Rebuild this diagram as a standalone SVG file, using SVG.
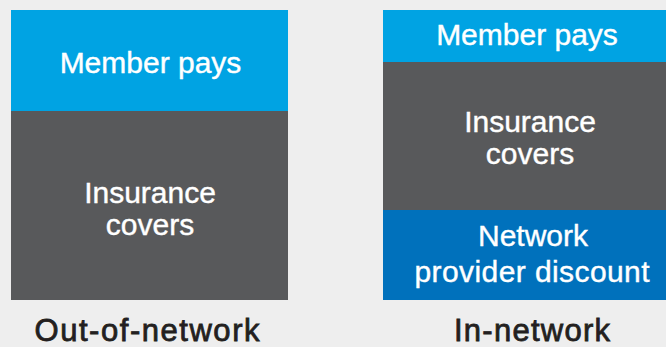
<svg xmlns="http://www.w3.org/2000/svg" width="666" height="347" viewBox="0 0 666 347">
<style>
.bg{fill:#eeeeee}
.blue{fill:#00a3e3}
.gray{fill:#58595b}
.dblue{fill:#0071bc}
.t{font-family:"Liberation Sans",Arial,Helvetica,sans-serif;font-size:30px;fill:#ffffff;stroke:#ffffff;stroke-width:0.4;text-anchor:middle}
.lbl{font-family:"Liberation Sans",Arial,Helvetica,sans-serif;font-size:31px;fill:#231f20;stroke:#231f20;stroke-width:0.8;text-anchor:middle}
</style>
<rect class="bg" x="0" y="0" width="666" height="347"/>
<g id="out-of-network">
  <g id="oon-member">
    <rect class="blue" x="11" y="10" width="277" height="101"/>
    <text class="t" x="150.5" y="73">Member pays</text>
  </g>
  <g id="oon-insurance">
    <rect class="gray" x="11" y="111" width="277" height="189"/>
    <text class="t" x="150" y="203">Insurance</text>
    <text class="t" x="150" y="235">covers</text>
  </g>
  <text class="lbl" x="147" y="341" textLength="225" lengthAdjust="spacing">Out-of-network</text>
</g>
<g id="in-network">
  <g id="in-member">
    <rect class="blue" x="383" y="10" width="283" height="52"/>
    <text class="t" x="527" y="45">Member pays</text>
  </g>
  <g id="in-insurance">
    <rect class="gray" x="383" y="62" width="283" height="148"/>
    <text class="t" x="530" y="132">Insurance</text>
    <text class="t" x="530" y="164">covers</text>
  </g>
  <g id="in-discount">
    <rect class="dblue" x="383" y="210" width="283" height="90"/>
    <text class="t" x="533" y="246">Network</text>
    <text class="t" x="532" y="282" textLength="235" lengthAdjust="spacing">provider discount</text>
  </g>
  <text class="lbl" x="532" y="341" textLength="156" lengthAdjust="spacing">In-network</text>
</g>
<g id="connectors"/>
</svg>
